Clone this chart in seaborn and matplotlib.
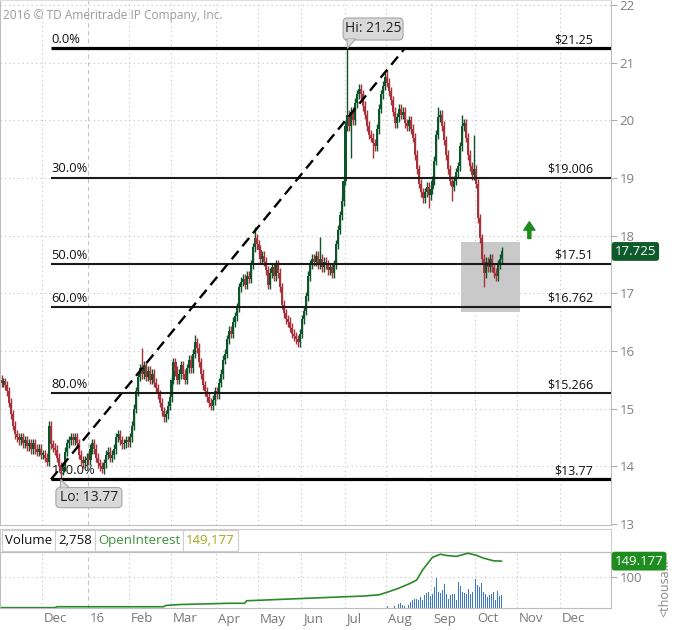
import numpy as np
import pandas as pd
import matplotlib
matplotlib.use('Agg')
import matplotlib.pyplot as plt
import matplotlib.transforms as mtrans
from matplotlib.patches import Rectangle, Polygon, FancyBboxPatch
import seaborn as sns

sns.set_style('white')
plt.rcParams['font.family'] = ['Open Sans', 'DejaVu Sans']

# daily closes, one value per weekday
close_nov15 = [15.45, 15.45, 15.40, 15.30, 15.10, 14.90, 14.70, 14.55, 14.50, 14.45, 14.50,
               14.40, 14.45, 14.35, 14.40, 14.30, 14.40, 14.30, 14.25, 14.30, 14.20]
close_dec15 = [14.20, 14.15, 14.08, 14.70, 14.38, 14.32, 14.28, 14.15, 14.00, 13.92, 14.00, 14.25,
               14.40, 14.45, 14.50, 14.45, 14.50, 14.40, 14.20, 14.10, 14.05, 14.10, 14.15]
close_jan16 = [14.10, 14.30, 14.40, 14.30, 14.15, 14.05, 14.00, 13.95, 14.05, 14.20, 14.25,
               14.15, 14.20, 14.30, 14.50, 14.55, 14.45, 14.38, 14.40, 14.45, 14.42]
close_feb16 = [14.50, 14.70, 15.00, 15.30, 15.55, 15.70, 15.60, 15.75, 15.55, 15.65, 15.50,
               15.60, 15.45, 15.35, 15.25, 15.10, 14.95, 14.85, 14.90, 15.05, 15.20]
close_mar16 = [15.50, 15.80, 15.65, 15.50, 15.60, 15.75, 15.60, 15.50, 15.70, 15.85, 15.70, 15.95,
               16.15, 16.05, 15.80, 15.60, 15.40, 15.30, 15.20, 15.10, 15.05, 15.15, 15.30]
close_apr16 = [15.25, 15.45, 15.60, 15.85, 15.95, 16.20, 16.35, 16.30, 16.50, 16.60, 16.75,
               17.10, 17.20, 17.25, 17.15, 17.30, 17.25, 17.50, 17.80, 17.95, 17.85]
close_may16 = [17.75, 17.60, 17.65, 17.55, 17.40, 17.15, 17.35, 17.45, 17.30, 17.50, 17.35,
               17.10, 16.80, 16.65, 16.55, 16.50, 16.40, 16.30, 16.25, 16.20, 16.15, 16.30]
close_jun16 = [16.55, 16.70, 16.95, 17.30, 17.50, 17.60, 17.55, 17.65, 17.50, 17.60, 17.45,
               17.55, 17.50, 17.40, 17.45, 17.35, 17.50, 17.85, 18.10, 18.35, 18.60, 18.95]
close_jul16 = [19.90, 20.10, 19.90, 20.15, 20.00, 20.30, 20.45, 20.55, 20.45, 20.25, 20.10,
               19.90, 19.75, 19.70, 19.60, 19.55, 19.85, 20.20, 20.45, 20.60, 20.75]
close_aug16 = [20.65, 20.50, 20.35, 20.15, 19.95, 20.05, 20.20, 20.10, 20.15, 19.95, 19.90, 20.00,
               19.85, 19.70, 19.40, 19.15, 18.90, 18.75, 18.65, 18.75, 18.85, 18.70, 18.80]
close_sep16 = [18.95, 19.30, 19.75, 20.05, 20.10, 19.90, 19.65, 19.40, 19.15, 18.95, 18.85,
               18.95, 19.10, 19.20, 19.55, 19.90, 19.95, 19.70, 19.40, 19.20, 19.05, 19.15]
close_oct16 = [18.90, 18.30, 17.95, 17.60, 17.35, 17.55, 17.45, 17.60, 17.45, 17.35, 17.30,
               17.50, 17.60, 17.725]

# notable wick extremes
highs = {'2015-12-04': 14.78, '2016-02-09': 16.05, '2016-03-17': 16.28, '2016-04-28': 18.15,
         '2016-06-14': 17.98, '2016-07-04': 21.25, '2016-08-01': 20.87, '2016-09-06': 20.23,
         '2016-09-22': 20.10, '2016-09-30': 19.75}
lows = {'2015-12-14': 13.77, '2016-01-12': 13.88, '2016-05-30': 16.07, '2016-07-06': 19.35,
        '2016-07-21': 19.35, '2016-08-30': 18.48, '2016-09-15': 18.60, '2016-10-07': 17.10}

# volume (Aug 1 .. Oct 20) and open interest, in thousands
vol_aug16 = [6, 0, 0, 0, 6, 0, 12, 15, 9, 6, 0, 9, 20, 25, 30, 30, 27, 35, 25, 41, 48, 51, 37]
vol_sep16 = [44, 67, 96, 51, 48, 56, 75, 44, 30, 41, 44, 46, 25, 82, 69, 51, 48, 46, 61, 44, 51, 67]
vol_oct16 = [93, 72, 67, 79, 51, 46, 35, 41, 44, 51, 27, 54, 37, 40]
oi_dates = ['2015-11-02', '2015-12-09', '2015-12-10', '2016-02-24', '2016-02-25', '2016-03-07',
            '2016-04-11', '2016-04-21', '2016-04-22', '2016-05-10', '2016-05-31', '2016-06-28',
            '2016-07-14', '2016-07-26', '2016-08-02', '2016-08-09', '2016-08-17', '2016-08-22',
            '2016-08-25', '2016-09-01', '2016-09-07', '2016-09-12', '2016-09-19', '2016-09-27',
            '2016-10-03', '2016-10-07', '2016-10-14', '2016-10-20']
oi_values = [1, 1, 4, 4, 8, 11, 15, 15, 23, 26, 30, 35, 38, 42, 52, 63, 79, 89, 121, 161,
             171, 167, 164, 174, 168, 158, 150, 149]

fib_pct = [0.0, 30.0, 50.0, 60.0, 80.0, 100.0]
fib_price = [21.25, 19.006, 17.51, 16.762, 15.266, 13.77]
fib_label = ['$21.25', '$19.006', '$17.51', '$16.762', '$15.266', '$13.77']
month_labels = ['Dec', '16', 'Feb', 'Mar', 'Apr', 'May', 'Jun', 'Jul', 'Aug', 'Sep', 'Oct', 'Nov', 'Dec']

GREEN = '#0c5429'
RED = '#a8323a'
GRID = '#c4c4c4'

close = (close_nov15 + close_dec15 + close_jan16 + close_feb16 + close_mar16 + close_apr16 +
         close_may16 + close_jun16 + close_jul16 + close_aug16 + close_sep16 + close_oct16)
days = pd.bdate_range('2015-11-02', '2016-10-20')
axis_days = pd.bdate_range('2015-11-02', '2017-01-31')
pos_of = {d.strftime('%Y-%m-%d'): i for i, d in enumerate(axis_days)}

df = pd.DataFrame({'date': days, 'close': close})
df['pos'] = np.arange(len(df))
df['open'] = df['close'].shift(1).fillna(15.50)
wick_pad = 0.08
df['high'] = df[['open', 'close']].max(axis=1) + wick_pad
df['low'] = df[['open', 'close']].min(axis=1) - wick_pad
for d, v in highs.items():
    df.loc[df['date'] == d, 'high'] = v
for d, v in lows.items():
    df.loc[df['date'] == d, 'low'] = v

vol = pd.DataFrame({'date': pd.bdate_range('2016-08-01', '2016-10-20'),
                    'vol': vol_aug16 + vol_sep16 + vol_oct16})
vol['pos'] = [pos_of[d.strftime('%Y-%m-%d')] for d in vol['date']]
oi = pd.DataFrame({'pos': [pos_of[d] for d in oi_dates], 'oi': oi_values})

month_starts = pd.date_range('2015-12-01', '2016-12-01', freq='MS')
month_pos = [int(np.searchsorted(axis_days, m)) for m in month_starts]

W, H = 677, 630
def fig_rect(x0, y0, x1, y1):
    return [x0 / W, 1 - y1 / H, (x1 - x0) / W, (y1 - y0) / H]

fig = plt.figure(figsize=(W / 100, H / 100), dpi=100)
ax = fig.add_axes(fig_rect(0, 0, 611, 525))
axh = fig.add_axes(fig_rect(0, 529, 611, 552))
axv = fig.add_axes(fig_rect(0, 552, 611, 608))

xlim = (-0.76, 308.3)
ylim = (12.98, 22.087)

# ---- price panel ----
ax.set_xlim(*xlim)
ax.set_ylim(*ylim)
for y in range(14, 23):
    ax.axhline(y, color=GRID, lw=0.8, ls=(0, (1, 3)), zorder=0)
for m, p in zip(month_labels, month_pos):
    ls = (0, (4, 3)) if m == '16' else (0, (1, 3))
    ax.axvline(p - 0.5, color=GRID, lw=0.8, ls=ls, zorder=0)
    axv.axvline(p - 0.5, color=GRID, lw=0.8, ls=ls, zorder=0)

box0, box1 = pos_of['2016-09-21'], pos_of['2016-11-02']
ax.add_patch(Rectangle((box0 + 0.4, 16.68), box1 - box0 - 0.2, 17.89 - 16.68,
                       fc='#c9c9c9', ec='none', zorder=1))

up = df['close'] >= df['open']
colors = np.where(up, GREEN, RED)
ax.vlines(df['pos'], df['low'], df['high'], colors=colors, lw=1.0, zorder=2)
body = (df['close'] - df['open']).abs().clip(lower=0.03)
ax.bar(df['pos'], body, bottom=df[['open', 'close']].min(axis=1), width=1.05,
       color=colors, linewidth=0, zorder=2)

fib_x0 = pos_of['2015-12-07']
fib_x1 = pos_of['2016-08-12']
for p, lvl, lab in zip(fib_pct, fib_price, fib_label):
    thick = p in (0.0, 100.0)
    ax.hlines(lvl, fib_x0, xlim[1], color='#000000' if thick else '#1a1a1a',
              lw=2.3 if thick else 1.5, zorder=3)
    ax.text(fib_x0 + 0.3, lvl + 0.09, f'{p:.1f}%', ha='left', va='baseline',
            fontsize=9.3, color='#111111', zorder=1.5)
    ax.text(299.2, lvl + 0.09, lab, ha='right', va='baseline', fontsize=9.0,
            color='#111111', zorder=3)

ax.plot([fib_x0, fib_x1], [fib_price[-1], fib_price[0]], color='black', lw=1.7,
        dashes=(4.5, 2.6), zorder=4)

# callouts: rounded boxes sized in data units
aspect = ((ylim[1] - ylim[0]) / 525) / ((xlim[1] - xlim[0]) / 611)
hi_pos = pos_of['2016-07-04']
lo_pos = pos_of['2015-12-14']
callouts = [('Hi: 21.25', hi_pos, 21.25, hi_pos - 2.2, 21.393, 30.3, 0.382, 21.41),
            ('Lo: 13.77', lo_pos, 13.77, lo_pos - 2.5, 13.28, 33.4, 0.35, 13.63)]
for txt, px, py, bx, by, bw, bh, base in callouts:
    ax.add_patch(FancyBboxPatch((bx, by), bw, bh, boxstyle='round,pad=0,rounding_size=2.2',
                                mutation_aspect=aspect, fc='#d9d9d9', ec='#a5a5a5', lw=0.8, zorder=5))
    ax.add_patch(Polygon([(px - 0.3, base), (px + 4.2, base), (px, py)],
                         closed=True, fc='#d9d9d9', ec='#a5a5a5', lw=0.8, zorder=5))
    ax.add_patch(Polygon([(px + 0.1, base), (px + 3.6, base), (px + 0.3, base + (py - base) * 0.2)],
                         closed=True, fc='#d9d9d9', ec='none', zorder=5.5))
    ax.text(bx + bw / 2, by + bh / 2, txt, ha='center', va='center', fontsize=10,
            color='#222222', zorder=6)

arrow_pos = pos_of['2016-11-09']
ax.annotate('', xy=(arrow_pos, 18.24), xytext=(arrow_pos, 17.95),
            arrowprops=dict(width=2.2, headwidth=8, headlength=6, color='#1d8a1d', shrink=0),
            zorder=5)

ax.yaxis.tick_right()
ax.set_yticks(range(13, 23))
ax.tick_params(axis='y', length=4, color='#b0b0b0', labelsize=9.5, labelcolor='#808080', pad=2)
ax.set_xticks([])
for s in ax.spines.values():
    s.set_color('#bdbdbd')
    s.set_linewidth(0.8)
ax.spines['top'].set_color('#dddddd')

ytrans = mtrans.blended_transform_factory(ax.transAxes, ax.transData)
ax.text(1.006, 17.725, '17.725', transform=ytrans, ha='left', va='center', fontsize=9.5,
        color='white', bbox=dict(boxstyle='round,pad=0.22,rounding_size=0.2', fc='#0d5a2b', ec='none'))

fig.text(3 / W, 1 - 15 / H, '2016 \u00a9 TD Ameritrade IP Company, Inc.', ha='left', va='center',
         fontsize=8.6, color='#9a9a9a')

# ---- header strip ----
axh.set_xlim(0, 611)
axh.set_ylim(0, 23)
axh.set_xticks([])
axh.set_yticks([])
for s in axh.spines.values():
    s.set_color('#cccccc')
    s.set_linewidth(0.8)
header = [('Volume', 2, 55, '#111111'), ('2,758', 55, 95, '#111111'),
          ('OpenInterest', 95, 183, '#3a923a'), ('149,177', 183, 238, '#a5a51a')]
for txt, x0, x1, col in header:
    axh.add_patch(Rectangle((x0, 1), x1 - x0, 21, fc='white', ec='#cfcfcf', lw=0.8))
    axh.text((x0 + x1) / 2, 11.5, txt, ha='center', va='center', fontsize=9.5, color=col)

# ---- volume / open interest panel ----
axv.set_xlim(*xlim)
axv.set_ylim(0, 178)
axv.axhline(100, color=GRID, lw=0.8, ls=(0, (1, 3)), zorder=0)
axv.bar(vol['pos'], vol['vol'], width=0.5, color='#3b78bd', linewidth=0, zorder=2)
sns.lineplot(data=oi, x='pos', y='oi', ax=axv, color='#2a8a2a', lw=1.2, zorder=3)
axv.set_xlabel('')
axv.set_ylabel('')
axv.yaxis.tick_right()
axv.set_yticks([100])
axv.tick_params(axis='y', length=4, color='#b0b0b0', labelsize=9.5, labelcolor='#808080', pad=2)
axv.set_xticks([])
for s in axv.spines.values():
    s.set_color('#bdbdbd')
    s.set_linewidth(0.8)
vtrans = mtrans.blended_transform_factory(axv.transAxes, axv.transData)
axv.text(1.006, 149, '149.177', transform=vtrans, ha='left', va='center', fontsize=9.5,
         color='white', bbox=dict(boxstyle='round,pad=0.22,rounding_size=0.2', fc='#1f8c1f', ec='none'))
fig.text(665 / W, 1 - 588 / H, '<thousa...', rotation=90, ha='center', va='center',
         fontsize=9, color='#888888')

xtrans = mtrans.blended_transform_factory(axv.transData, fig.transFigure)
for m, p in zip(month_labels, month_pos):
    axv.text(p + 0.5, 1 - 619 / H, m, transform=xtrans, ha='left', va='center',
             fontsize=9.5, color='#777777')

fig.savefig('out.png', dpi=100, facecolor='white')
